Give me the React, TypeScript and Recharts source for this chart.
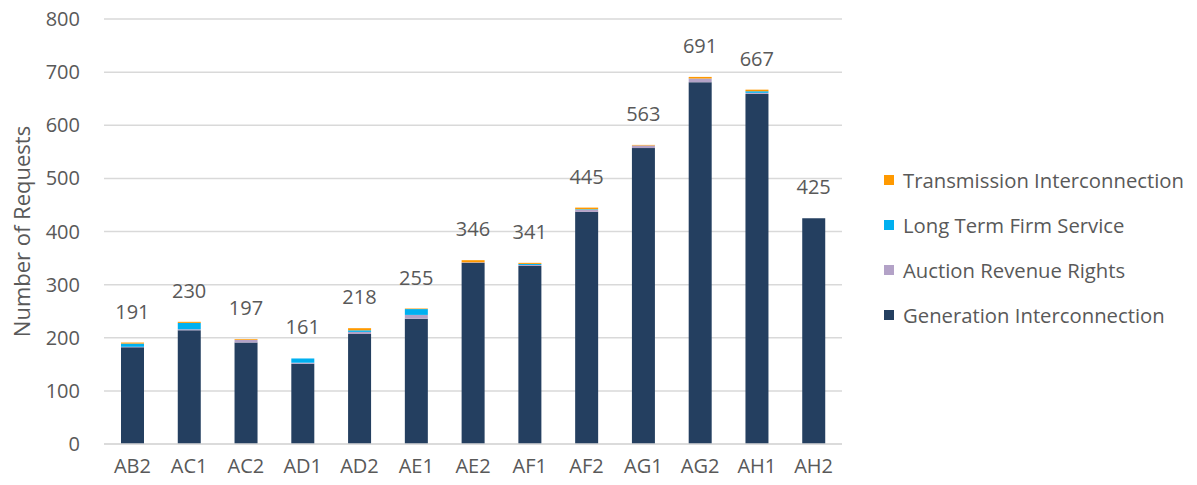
import React from 'react';
import { ComposedChart, Bar, Line, XAxis, YAxis, CartesianGrid, LabelList } from 'recharts';

const categories = ['AB2', 'AC1', 'AC2', 'AD1', 'AD2', 'AE1', 'AE2', 'AF1', 'AF2', 'AG1', 'AG2', 'AH1', 'AH2'];
const generation = [182, 214, 191, 151, 207, 236, 341, 335, 437, 557, 681, 659, 425];
const auctionRights = [1, 2, 5, 2, 4, 7, 1, 2, 4, 5, 7, 2, 0];
const longTermFirm = [6, 12, 0, 8, 3, 11, 0, 2, 1, 0, 0, 3, 0];
const transmission = [2, 2, 1, 0, 4, 1, 4, 2, 3, 1, 3, 3, 0];
const totals = [191, 230, 197, 161, 218, 255, 346, 341, 445, 563, 691, 667, 425];
const yTicks = [0, 100, 200, 300, 400, 500, 600, 700, 800];

const series = [
  { key: 'gen', name: 'Generation Interconnection', color: '#243F60' },
  { key: 'arr', name: 'Auction Revenue Rights', color: '#B3A2C7' },
  { key: 'ltf', name: 'Long Term Firm Service', color: '#00B0F0' },
  { key: 'ti', name: 'Transmission Interconnection', color: '#FF9900' },
];

const data = categories.map((c, i) => ({
  cat: c,
  gen: generation[i],
  arr: auctionRights[i],
  ltf: longTermFirm[i],
  ti: transmission[i],
  total: totals[i],
}));

const FONT = '"Open Sans", sans-serif';
const TEXT = '#595959';

function LegendBox() {
  const items = [...series].reverse();
  return (
    <div style={{ position: 'absolute', left: 884, top: 157, width: 310, fontFamily: FONT }}>
      {items.map((s) => (
        <div key={s.key} style={{ display: 'flex', alignItems: 'center', height: 45 }}>
          <span style={{ width: 10, height: 10, background: s.color, marginRight: 9, flexShrink: 0 }} />
          <span style={{ fontSize: 20.3, color: TEXT, whiteSpace: 'nowrap' }}>{s.name}</span>
        </div>
      ))}
    </div>
  );
}

export default function App() {
  // chart covers the whole window, so pull it over the body margin
  return (
    <div style={{ position: 'relative', width: 1197, height: 485, margin: -8 }}>
      <ComposedChart
        width={1197}
        height={485}
        data={data}
        margin={{ top: 19, right: 355, bottom: 0, left: 8 }}
        barCategoryGap={0}
        style={{ fontFamily: FONT }}
      >
        <CartesianGrid vertical={false} stroke="#d9d9d9" strokeWidth={1.5} />
        <XAxis
          dataKey="cat"
          height={41}
          tickLine={false}
          tickSize={0}
          tickMargin={15}
          axisLine={{ stroke: '#d9d9d9', strokeWidth: 1.5 }}
          tick={{ fill: TEXT, fontSize: 20 }}
          interval={0}
        />
        <YAxis
          width={96}
          domain={[0, 800]}
          ticks={yTicks}
          axisLine={false}
          tickLine={false}
          tickSize={0}
          tickMargin={24}
          tick={{ fill: TEXT, fontSize: 20 }}
          label={{ value: 'Number of Requests', angle: -90, position: 'center', dx: -34, fill: TEXT, fontSize: 22 }}
        />
        {series.map((s) => (
          <Bar
            key={s.key}
            dataKey={s.key}
            name={s.name}
            stackId="a"
            fill={s.color}
            barSize={23}
            isAnimationActive={false}
          />
        ))}
        <Line
          dataKey="total"
          stroke="none"
          dot={false}
          activeDot={false}
          legendType="none"
          isAnimationActive={false}
        >
          <LabelList dataKey="total" position="top" offset={24} fill={TEXT} fontSize={20} />
        </Line>
      </ComposedChart>
      <LegendBox />
    </div>
  );
}
